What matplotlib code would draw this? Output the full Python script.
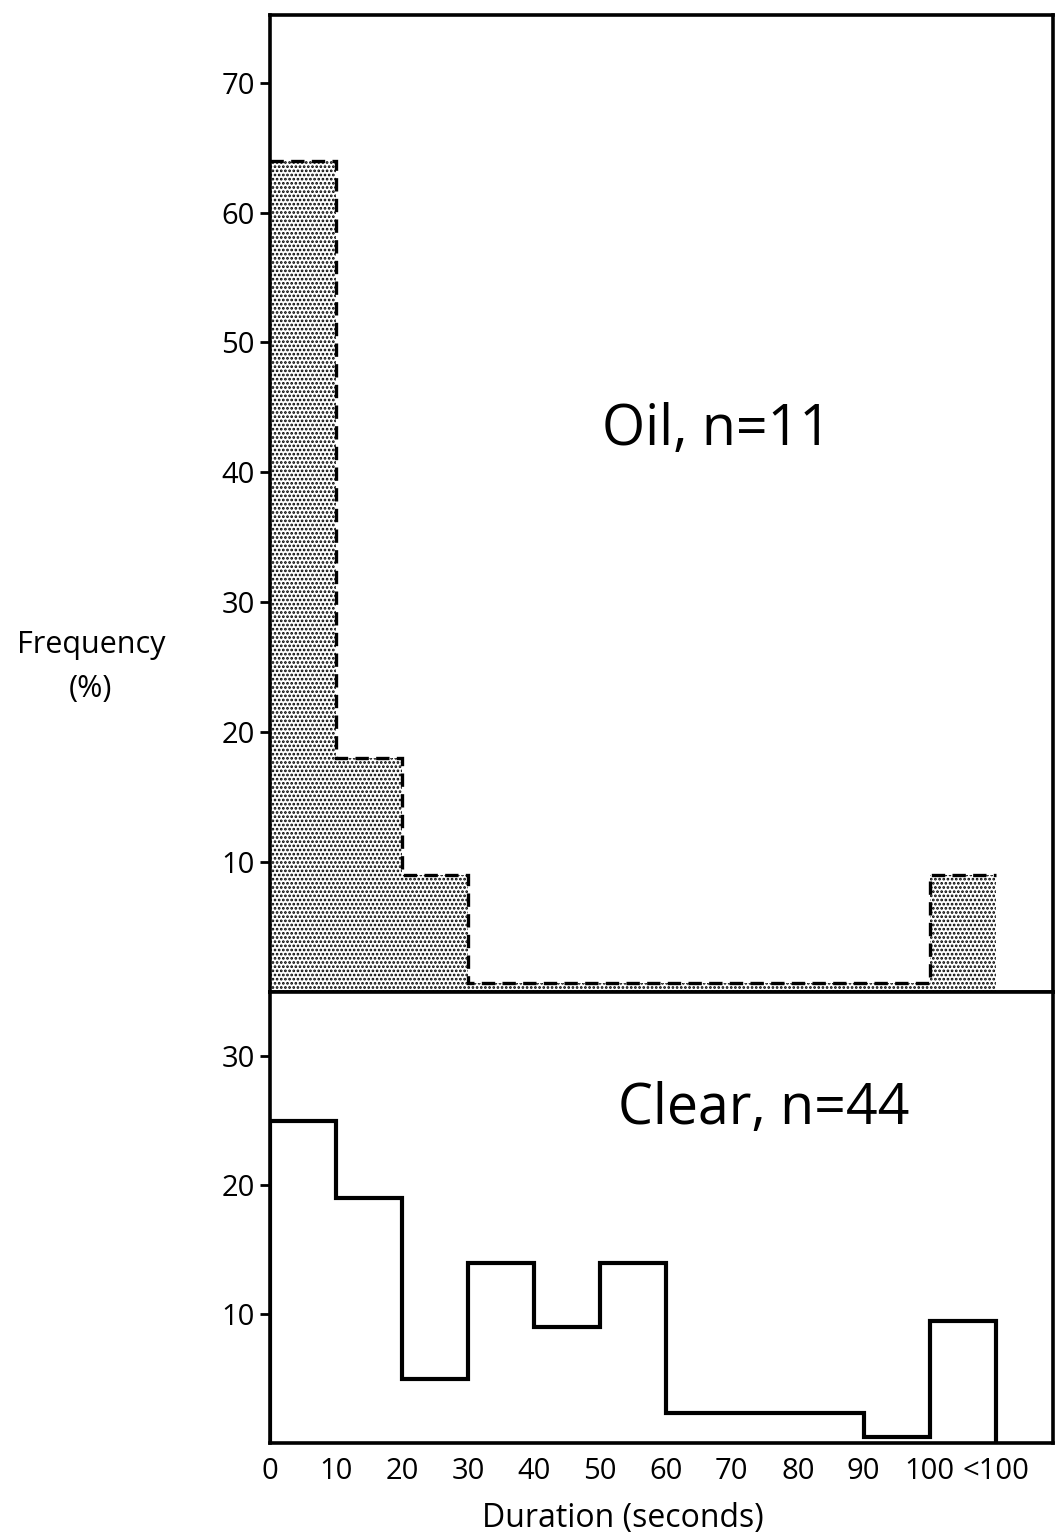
import matplotlib
matplotlib.use("Agg")
import matplotlib.pyplot as plt
import numpy as np

plt.rcParams['font.family'] = ['Open Sans', 'DejaVu Sans']
plt.rcParams['hatch.linewidth'] = 1.3

# Bin edges (seconds) and frequencies (%)
bin_edges = [0, 10, 20, 30, 40, 50, 60, 70, 80, 90, 100, 110]
oil_freq = [64, 18, 9, 0.7, 0.7, 0.7, 0.7, 0.7, 0.7, 0.7, 9]
clear_freq = [25, 19, 5, 14, 9, 14, 2.3, 2.3, 2.3, 0.5, 9.5]
x_tick_pos = [0, 10, 20, 30, 40, 50, 60, 70, 80, 90, 100, 110]
x_tick_labels = ['0', '10', '20', '30', '40', '50', '60', '70', '80', '90', '100', '<100']
oil_yticks = [10, 20, 30, 40, 50, 60, 70]
clear_yticks = [10, 20, 30]

fig = plt.figure(figsize=(10.56, 15.35), dpi=100)
left, width = 0.2557, 0.7415
ax_top = fig.add_axes([left, 0.3537, width, 0.6365])
ax_bot = fig.add_axes([left, 0.0599, width, 0.2938])

for ax in (ax_top, ax_bot):
    for s in ax.spines.values():
        s.set_linewidth(2.6)
    ax.set_xlim(0, 118.7)
    ax.tick_params(axis='y', direction='out', length=7, width=2, labelsize=21, pad=4)

# Oil panel: stippled fill with dashed outline
ax_top.stairs(oil_freq, bin_edges, fill=True, facecolor='white', edgecolor='black',
              hatch='....', linewidth=0)
ax_top.stairs(oil_freq, bin_edges, color='black', linewidth=2.4,
              linestyle=(0, (4, 2.2)), baseline=None)
ax_top.set_ylim(0, 75.2)
ax_top.set_yticks(oil_yticks)
ax_top.set_xticks([])
ax_top.text(0.57, 0.575, 'Oil, n=11', transform=ax_top.transAxes, fontsize=40,
            ha='center', va='center')

# Clear panel: solid outline
ax_bot.stairs(clear_freq, bin_edges, color='black', linewidth=3, baseline=0)
ax_bot.set_ylim(0, 35)
ax_bot.set_yticks(clear_yticks)
ax_bot.set_xticks(x_tick_pos)
ax_bot.set_xticklabels(x_tick_labels)
ax_bot.tick_params(axis='x', length=0, labelsize=21, pad=10)
ax_bot.text(0.63, 0.74, 'Clear, n=44', transform=ax_bot.transAxes, fontsize=40,
            ha='center', va='center')
ax_bot.set_xlabel('Duration (seconds)', fontsize=23, labelpad=12)
ax_bot.xaxis.set_label_coords(0.45, -0.13)

fig.text(0.086, 0.5655, 'Frequency\n(%)', fontsize=22, ha='center', va='center',
         linespacing=1.6)

fig.savefig('out.png', dpi=100)
